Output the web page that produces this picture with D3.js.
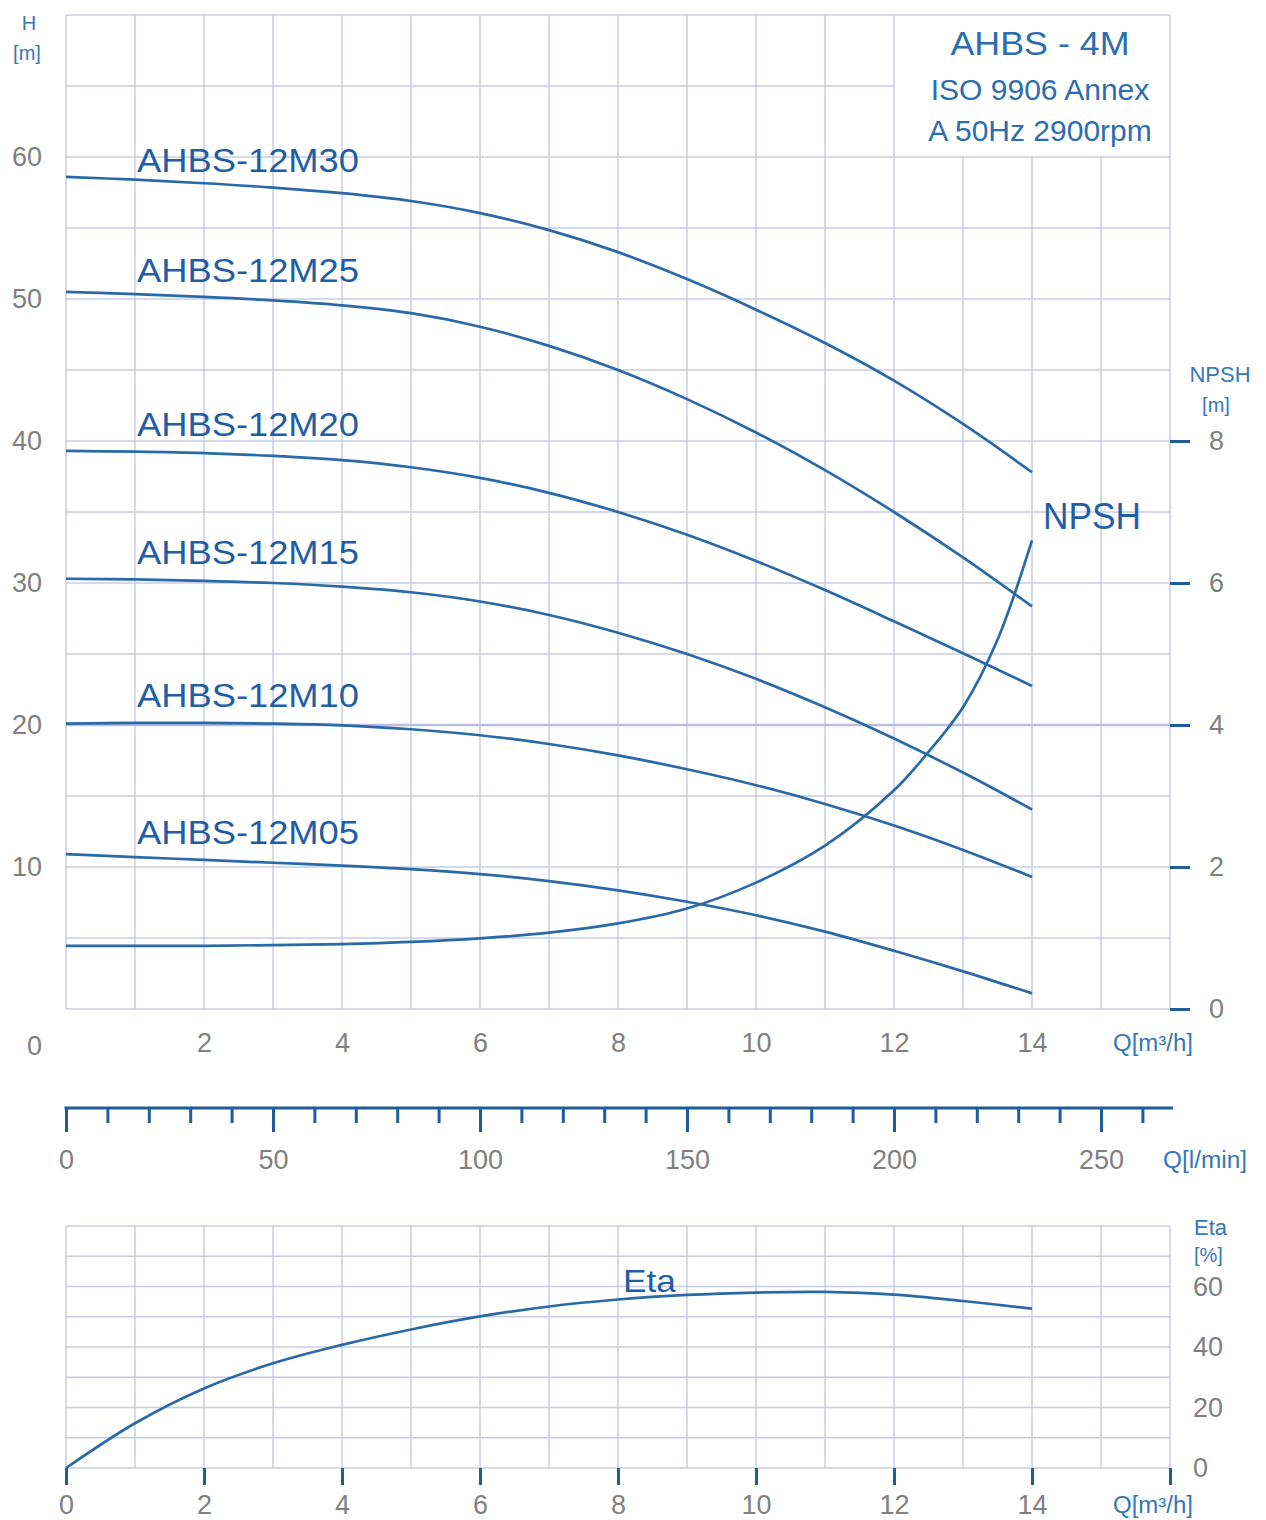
<!DOCTYPE html>
<html>
<head>
<meta charset="utf-8">
<script src="https://cdn.jsdelivr.net/npm/d3@7"></script>
<style>
	body { margin: 0; background: #fff; }
	text { font-family: 'Liberation Sans', Arial, sans-serif; }
</style>
</head>
<body>
<div id="chart"></div>
<script>
// flow points, m3/h
let flow = d3.range(0, 15)

let head12M30 = [58.6, 58.4, 58.15, 57.85, 57.45, 56.9, 56.05, 54.85, 53.3, 51.4, 49.25, 46.9, 44.25, 41.2, 37.8]
let head12M25 = [50.5, 50.35, 50.15, 49.9, 49.55, 49.0, 48.05, 46.7, 45.0, 42.95, 40.6, 37.95, 35.0, 31.8, 28.35]
let head12M20 = [39.3, 39.25, 39.15, 38.95, 38.65, 38.15, 37.4, 36.35, 35.0, 33.4, 31.55, 29.5, 27.3, 25.05, 22.75]
let head12M15 = [30.3, 30.25, 30.15, 30.0, 29.75, 29.35, 28.7, 27.75, 26.5, 25.0, 23.25, 21.25, 19.05, 16.65, 14.05]
let head12M10 = [20.1, 20.15, 20.15, 20.1, 19.98, 19.7, 19.28, 18.66, 17.86, 16.88, 15.76, 14.44, 12.92, 11.2, 9.3]
let head12M05 = [10.9, 10.7, 10.5, 10.3, 10.1, 9.85, 9.5, 9.0, 8.35, 7.55, 6.6, 5.45, 4.1, 2.65, 1.1]

let models = ['AHBS-12M30', 'AHBS-12M25', 'AHBS-12M20', 'AHBS-12M15', 'AHBS-12M10', 'AHBS-12M05']
let heads = [head12M30, head12M25, head12M20, head12M15, head12M10, head12M05]

let npshFlow = [0, 1, 2, 3, 4, 5, 6, 7, 8, 9, 10, 11, 12, 12.5, 13, 13.5, 14]
let npshValues = [0.89, 0.89, 0.89, 0.9, 0.915, 0.945, 0.995, 1.075, 1.205, 1.415, 1.78, 2.3, 3.08, 3.62, 4.25, 5.2, 6.6]

let etaValues = [0, 14.8, 26.3, 34.6, 40.7, 45.8, 50.1, 53.4, 55.7, 57.2, 58.0, 58.2, 57.3, 55.2, 52.7]

let hTicks = [10, 20, 30, 40, 50, 60]
let qTicks = [2, 4, 6, 8, 10, 12, 14]
let npshTicks = [0, 2, 4, 6, 8]
let lpmTicks = d3.range(0, 261, 10)
let etaQTicks = [0, 2, 4, 6, 8, 10, 12, 14, 16]
let etaTicks = [0, 20, 40, 60]
let titleLines = ['AHBS - 4M', 'ISO 9906 Annex', 'A 50Hz 2900rpm']

// colours
let gridCol = '#c8cbe6'
let curveCol = '#2a69a7'
let axisCol = '#1f5c9c'
let labelCol = '#1f5ea4'
let unitCol = '#3676ba'
let grayCol = '#7f7f7f'

let svg = d3
	.select('#chart')
	.append('svg')
	.attr('width', 1266)
	.attr('height', 1520)

let x = d3.scaleLinear().domain([0, 16]).range([66, 1170])
let yH = d3.scaleLinear().domain([0, 70]).range([1009, 15])
let yN = d3.scaleLinear().domain([0, 14]).range([1009, 15])
let xL = d3.scaleLinear().domain([0, 16 * 1000 / 60]).range([66, 1170])
let yE = d3.scaleLinear().domain([0, 80]).range([1468, 1226])

// text placed by its cap centre
let label = (px, cy, str, size, fill, anchor, len) => {
	let t = svg
		.append('text')
		.attr('x', px)
		.attr('y', cy + size * 0.36)
		.attr('font-size', size)
		.attr('fill', fill)
		.attr('text-anchor', anchor || 'start')
		.text(str)
	if (len) t.attr('textLength', len).attr('lengthAdjust', 'spacingAndGlyphs')
	return t
}

// ---- head chart grid (title box at top right stays clear)
let grid = svg.append('g').attr('stroke', gridCol).attr('stroke-width', 1.5)
d3.range(0, 17).forEach(q => {
	grid
		.append('line')
		.attr('x1', x(q))
		.attr('x2', x(q))
		.attr('y1', q > 12 && q < 16 ? yH(60) : yH(70))
		.attr('y2', yH(0))
})
d3.range(0, 71, 5).forEach(h => {
	grid
		.append('line')
		.attr('x1', x(0))
		.attr('x2', h === 65 ? x(12) : x(16))
		.attr('y1', yH(h))
		.attr('y2', yH(h))
		.attr('stroke-width', h === 20 ? 2.5 : 1.5)
		.attr('stroke', h === 20 ? '#b9bde0' : gridCol)
})

// ---- eta chart grid
let egrid = svg.append('g').attr('stroke', gridCol).attr('stroke-width', 1.5)
d3.range(0, 17).forEach(q => {
	egrid.append('line').attr('x1', x(q)).attr('x2', x(q)).attr('y1', yE(80)).attr('y2', yE(0))
})
d3.range(0, 81, 10).forEach(e => {
	egrid.append('line').attr('x1', x(0)).attr('x2', x(16)).attr('y1', yE(e)).attr('y2', yE(e))
})

// ---- curves
let smooth = d3.curveCatmullRom.alpha(0.5)
let headLine = d3.line().x(d => x(d[0])).y(d => yH(d[1])).curve(smooth)
let npshLine = d3.line().x(d => x(d[0])).y(d => yN(d[1])).curve(smooth)
let etaLine = d3.line().x(d => x(d[0])).y(d => yE(d[1])).curve(smooth)

heads.forEach(h => {
	svg
		.append('path')
		.attr('d', headLine(flow.map((q, i) => [q, h[i]])))
		.attr('fill', 'none')
		.attr('stroke', curveCol)
		.attr('stroke-width', 2.7)
})

svg
	.append('path')
	.attr('d', npshLine(npshFlow.map((q, i) => [q, npshValues[i]])))
	.attr('fill', 'none')
	.attr('stroke', curveCol)
	.attr('stroke-width', 2.7)

svg
	.append('path')
	.attr('d', etaLine(flow.map((q, i) => [q, etaValues[i]])))
	.attr('fill', 'none')
	.attr('stroke', curveCol)
	.attr('stroke-width', 2.7)

// curve names sit just above each curve's shut-off head
let labelDy = [-17, -22, -27, -27, -28, -22]
models.forEach((m, i) => {
	label(137, yH(heads[i][0]) + labelDy[i], m, 33, labelCol, 'start', 222)
})
label(1043, 516, 'NPSH', 36, labelCol, 'start', 98)
label(623, 1280, 'Eta', 32, labelCol, 'start', 53)

// ---- title box
titleLines.forEach((t, i) => {
	label(1040, [43, 89, 130][i], t, i === 0 ? 33 : 30, '#2c6db2', 'middle', i === 0 ? 179 : null)
})

// ---- axes
let styleText = g => g.selectAll('text').attr('font-size', 27).attr('fill', grayCol).attr('font-family', "'Liberation Sans', Arial, sans-serif")

let leftAxis = svg
	.append('g')
	.attr('transform', `translate(${x(0)},0)`)
	.call(d3.axisLeft(yH).tickValues(hTicks).tickSize(0).tickPadding(24))
leftAxis.select('.domain').remove()
styleText(leftAxis)
label(42, 1045, '0', 27, grayCol, 'end')

let bottomAxis = svg
	.append('g')
	.attr('transform', `translate(0,${yH(0)})`)
	.call(d3.axisBottom(x).tickValues(qTicks).tickSize(0).tickPadding(24))
bottomAxis.select('.domain').remove()
styleText(bottomAxis)

let npshAxis = svg
	.append('g')
	.attr('transform', `translate(${x(16)},0)`)
	.call(d3.axisRight(yN).tickValues(npshTicks).tickSize(20).tickPadding(19))
npshAxis.select('.domain').remove()
npshAxis.selectAll('line').attr('stroke', axisCol).attr('stroke-width', 3)
styleText(npshAxis)

let lpmAxis = svg
	.append('g')
	.attr('transform', 'translate(0,1108)')
	.call(
		d3
			.axisBottom(xL)
			.tickValues(lpmTicks)
			.tickSize(15)
			.tickSizeOuter(0)
			.tickPadding(27)
			.tickFormat(d => (d % 50 === 0 ? d : ''))
	)
lpmAxis.select('.domain').attr('stroke', axisCol).attr('stroke-width', 3).attr('d', 'M64.5,0H1173')
lpmAxis.selectAll('line').attr('stroke', axisCol).attr('stroke-width', 3)
lpmAxis.selectAll('.tick').filter(d => d % 50 === 0).select('line').attr('y2', 24)
styleText(lpmAxis)

let etaX = svg
	.append('g')
	.attr('transform', `translate(0,${yE(0)})`)
	.call(
		d3
			.axisBottom(x)
			.tickValues(etaQTicks)
			.tickSize(17)
			.tickPadding(10)
			.tickFormat(d => (d === 16 ? '' : d))
	)
etaX.select('.domain').remove()
etaX.selectAll('line').attr('stroke', axisCol).attr('stroke-width', 3)
styleText(etaX)

let etaY = svg
	.append('g')
	.attr('transform', `translate(${x(16)},0)`)
	.call(d3.axisRight(yE).tickValues(etaTicks).tickSize(0).tickPadding(23))
etaY.select('.domain').remove()
styleText(etaY)

// ---- unit labels
label(29, 23, 'H', 20, unitCol, 'middle')
label(27, 53, '[m]', 20, unitCol, 'middle')
label(1220, 374, 'NPSH', 22, unitCol, 'middle')
label(1216, 405, '[m]', 20, unitCol, 'middle')
label(1113, 1043, 'Q[m³/h]', 23, unitCol, 'start', 80)
label(1163, 1160, 'Q[l/min]', 23, unitCol, 'start', 84)
label(1194, 1227, 'Eta', 22, unitCol, 'start')
label(1194, 1255, '[%]', 20, unitCol, 'start')
label(1113, 1505, 'Q[m³/h]', 23, unitCol, 'start', 80)
</script>
</body>
</html>
